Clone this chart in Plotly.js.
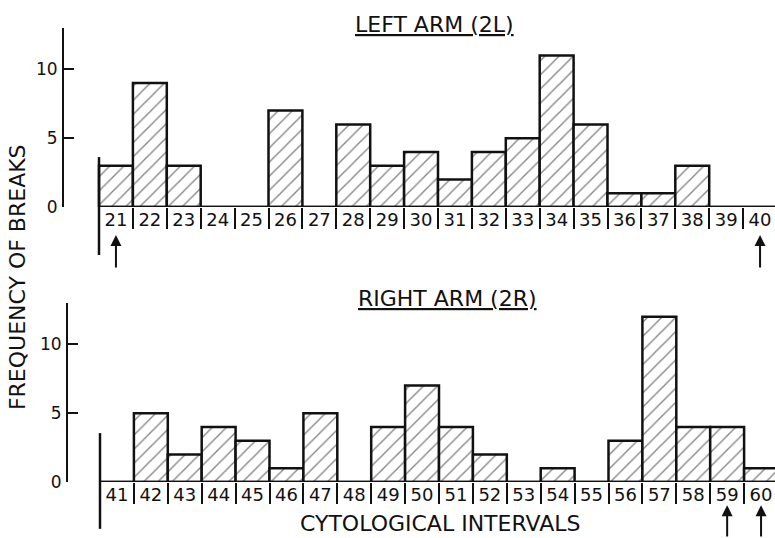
<!DOCTYPE html>
<html>
<head>
<meta charset="utf-8">
<script src="https://cdn.plot.ly/plotly-3.0.1.min.js"></script>
<style>html,body{margin:0;padding:0;background:#fff;}#chart{width:775px;height:538px;}</style>
</head>
<body>
<div id="chart"></div>
<script>
// Data
const leftIntervals = [21,22,23,24,25,26,27,28,29,30,31,32,33,34,35,36,37,38,39,40];
const leftBreaks    = [3,9,3,0,0,7,0,6,3,4,2,4,5,11,6,1,1,3,0,0];
const rightIntervals = [41,42,43,44,45,46,47,48,49,50,51,52,53,54,55,56,57,58,59,60];
const rightBreaks    = [0,5,2,4,3,1,5,0,4,7,4,2,0,1,0,3,12,4,4,1];
const leftArrows = [21,40];
const rightArrows = [59,60];
const yTicks = [0,5,10];
const leftTitle = 'LEFT ARM (2L)';
const rightTitle = 'RIGHT ARM (2R)';
const yTitle = 'FREQUENCY OF BREAKS';
const xTitle = 'CYTOLOGICAL INTERVALS';

const FONT = 'DejaVu Sans, Liberation Sans, sans-serif';
const INK = '#111';

function barTrace(x, y, xa, ya) {
  return {
    type: 'bar', x: x, y: y, xaxis: xa, yaxis: ya, width: 1,
    marker: {
      color: '#fff',
      line: {color: INK, width: 2.5},
      pattern: {shape: '/', size: 10, solidity: 0.14, fgcolor: INK, bgcolor: '#fff', fillmode: 'overlay'}
    },
    hoverinfo: 'x+y', showlegend: false
  };
}
function baseLine(cats, xa, ya) {
  return {
    type: 'scatter', mode: 'lines', xaxis: xa, yaxis: ya,
    x: [cats[0] - 0.5, cats[cats.length - 1] + 0.5], y: [0, 0],
    line: {color: INK, width: 2.5}, hoverinfo: 'skip', showlegend: false
  };
}
function bounds(cats) {
  const b = cats.map(c => c - 0.5);
  b.push(cats[cats.length - 1] + 0.5);
  return b;
}
function xAxis(cats, domainLeft, pxOffset, anchor) {
  const w = 33.9;
  const first = cats[0] - 0.5;
  return {
    domain: [domainLeft, 1],
    range: [first - pxOffset / w, first + (775 - domainLeft * 775 - pxOffset) / w],
    anchor: anchor,
    tickmode: 'array', tickvals: cats, ticktext: cats.map(String),
    ticks: '', showline: false, showgrid: false, zeroline: false,
    tickfont: {family: FONT, size: 18, color: INK},
    minor: {tickmode: 'array', tickvals: bounds(cats), ticks: 'outside', ticklen: 21, tickwidth: 2, tickcolor: INK, showgrid: false},
    fixedrange: true
  };
}
function yAxis(domain, anchor) {
  return {
    domain: domain, range: [0, 13], anchor: anchor,
    tickmode: 'array', tickvals: yTicks, ticktext: yTicks.map(String),
    ticks: 'inside', ticklen: 10, tickwidth: 2, tickcolor: INK,
    showline: true, linewidth: 2, linecolor: INK,
    showgrid: false, zeroline: false,
    tickfont: {family: FONT, size: 17, color: INK},
    ticklabelstandoff: 1,
    fixedrange: true
  };
}

const data = [
  barTrace(leftIntervals, leftBreaks, 'x', 'y'),
  baseLine(leftIntervals, 'x', 'y'),
  barTrace(rightIntervals, rightBreaks, 'x2', 'y2'),
  baseLine(rightIntervals, 'x2', 'y2')
];

const annotations = [];
function arrow(xval, xref, ytip) {
  annotations.push({x: xval, y: ytip, xref: xref, yref: 'paper', text: '', showarrow: true,
    ax: 0, ay: 34, arrowhead: 2, arrowsize: 1.1, arrowwidth: 2, arrowcolor: INK, standoff: 0, startstandoff: 0});
}
leftArrows.forEach(v => arrow(v, 'x', 0.563));
rightArrows.forEach(v => arrow(v, 'x2', 0.061));

annotations.push({x: 0.561, y: 0.955, xref: 'paper', yref: 'paper', xanchor: 'center', yanchor: 'middle', text: leftTitle, showarrow: false,
  font: {family: FONT, size: 22, color: INK, lineposition: 'under'}});
annotations.push({x: 0.577, y: 0.446, xref: 'paper', yref: 'paper', xanchor: 'center', yanchor: 'middle', text: rightTitle, showarrow: false,
  font: {family: FONT, size: 22, color: INK, lineposition: 'under'}});
annotations.push({x: 0.022, y: 0.485, xref: 'paper', yref: 'paper', xanchor: 'center', yanchor: 'middle', text: yTitle, showarrow: false, textangle: -90,
  font: {family: FONT, size: 22, color: INK}});
annotations.push({x: 0.568, y: 0.027, xref: 'paper', yref: 'paper', xanchor: 'center', yanchor: 'middle', text: xTitle, showarrow: false,
  font: {family: FONT, size: 22, color: INK}});

const shapes = [
  {type: 'line', xref: 'x', yref: 'paper', x0: leftIntervals[0] - 0.5, x1: leftIntervals[0] - 0.5, y0: 0.526, y1: 0.708, line: {color: INK, width: 2.5}},
  {type: 'line', xref: 'x2', yref: 'paper', x0: rightIntervals[0] - 0.5, x1: rightIntervals[0] - 0.5, y0: 0.017, y1: 0.195, line: {color: INK, width: 2.5}}
];

const layout = {
  width: 775, height: 538,
  margin: {l: 0, r: 0, t: 0, b: 0},
  paper_bgcolor: '#fff', plot_bgcolor: '#fff',
  bargap: 0, showlegend: false,
  xaxis: xAxis(leftIntervals, 64 / 775, 35, 'y'),
  yaxis: yAxis([0.6152, 0.9480], 'x'),
  xaxis2: xAxis(rightIntervals, 68 / 775, 32, 'y2'),
  yaxis2: yAxis([0.1041, 0.4368], 'x2'),
  annotations: annotations,
  shapes: shapes,
  font: {family: FONT, color: INK}
};

Plotly.newPlot('chart', data, layout, {displayModeBar: false, staticPlot: true});
</script>
</body>
</html>
